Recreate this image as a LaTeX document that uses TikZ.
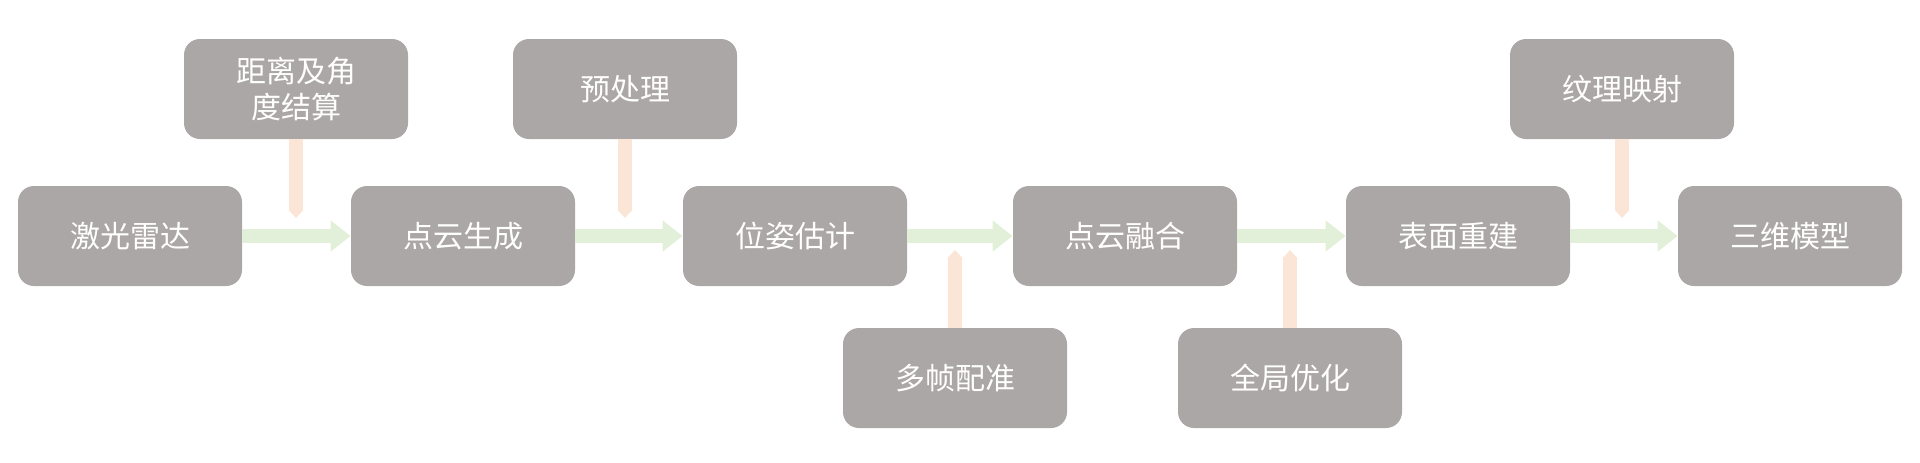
\documentclass[tikz,border=0pt]{standalone}
\usepackage{fontspec}
\setmainfont{Noto Sans CJK SC}
\usetikzlibrary{arrows.meta}
\definecolor{boxc}{HTML}{ABA7A6}
\definecolor{grn}{HTML}{E2F0D9}
\definecolor{org}{HTML}{FBE5D6}
\begin{document}
\begin{tikzpicture}[x=0.5pt,y=-0.5pt,
  box/.style={fill=boxc,rounded corners=8pt,minimum width=112pt,minimum height=50pt,text=white,font=\fontsize{15}{18}\selectfont,align=center,inner sep=0pt},
  garr/.style={draw=grn,line width=7pt,-{Triangle[length=10pt,width=15pt,color=grn]}},
  oarr/.style={draw=org,line width=7pt,-{Triangle[length=4pt,width=7pt,color=org]}}]
\useasboundingbox (0,0) rectangle (1920,462);
\node[box] (a) at (130,236) {激光雷达};
\node[box] (b) at (463,236) {点云生成};
\node[box] (c) at (795,236) {位姿估计};
\node[box] (d) at (1125,236) {点云融合};
\node[box] (e) at (1458,236) {表面重建};
\node[box] (f) at (1790,236) {三维模型};
\node[box] (t1) at (296,89) {距离及角\\度结算};
\node[box] (t2) at (625,89) {预处理};
\node[box] (t3) at (1622,89) {纹理映射};
\node[box] (b1) at (955,378) {多帧配准};
\node[box] (b2) at (1290,378) {全局优化};
\foreach \u/\v in {a/b,b/c,c/d,d/e,e/f} \draw[garr] (\u.east) -- (\v.west);
\coordinate (o1) at (296,218);
\coordinate (o2) at (625,218);
\coordinate (o3) at (1622,218);
\coordinate (o4) at (955,250);
\coordinate (o5) at (1290,250);
\draw[oarr] (t1.south) -- (o1);
\draw[oarr] (t2.south) -- (o2);
\draw[oarr] (t3.south) -- (o3);
\draw[oarr] (b1.north) -- (o4);
\draw[oarr] (b2.north) -- (o5);
\end{tikzpicture}
\end{document}
